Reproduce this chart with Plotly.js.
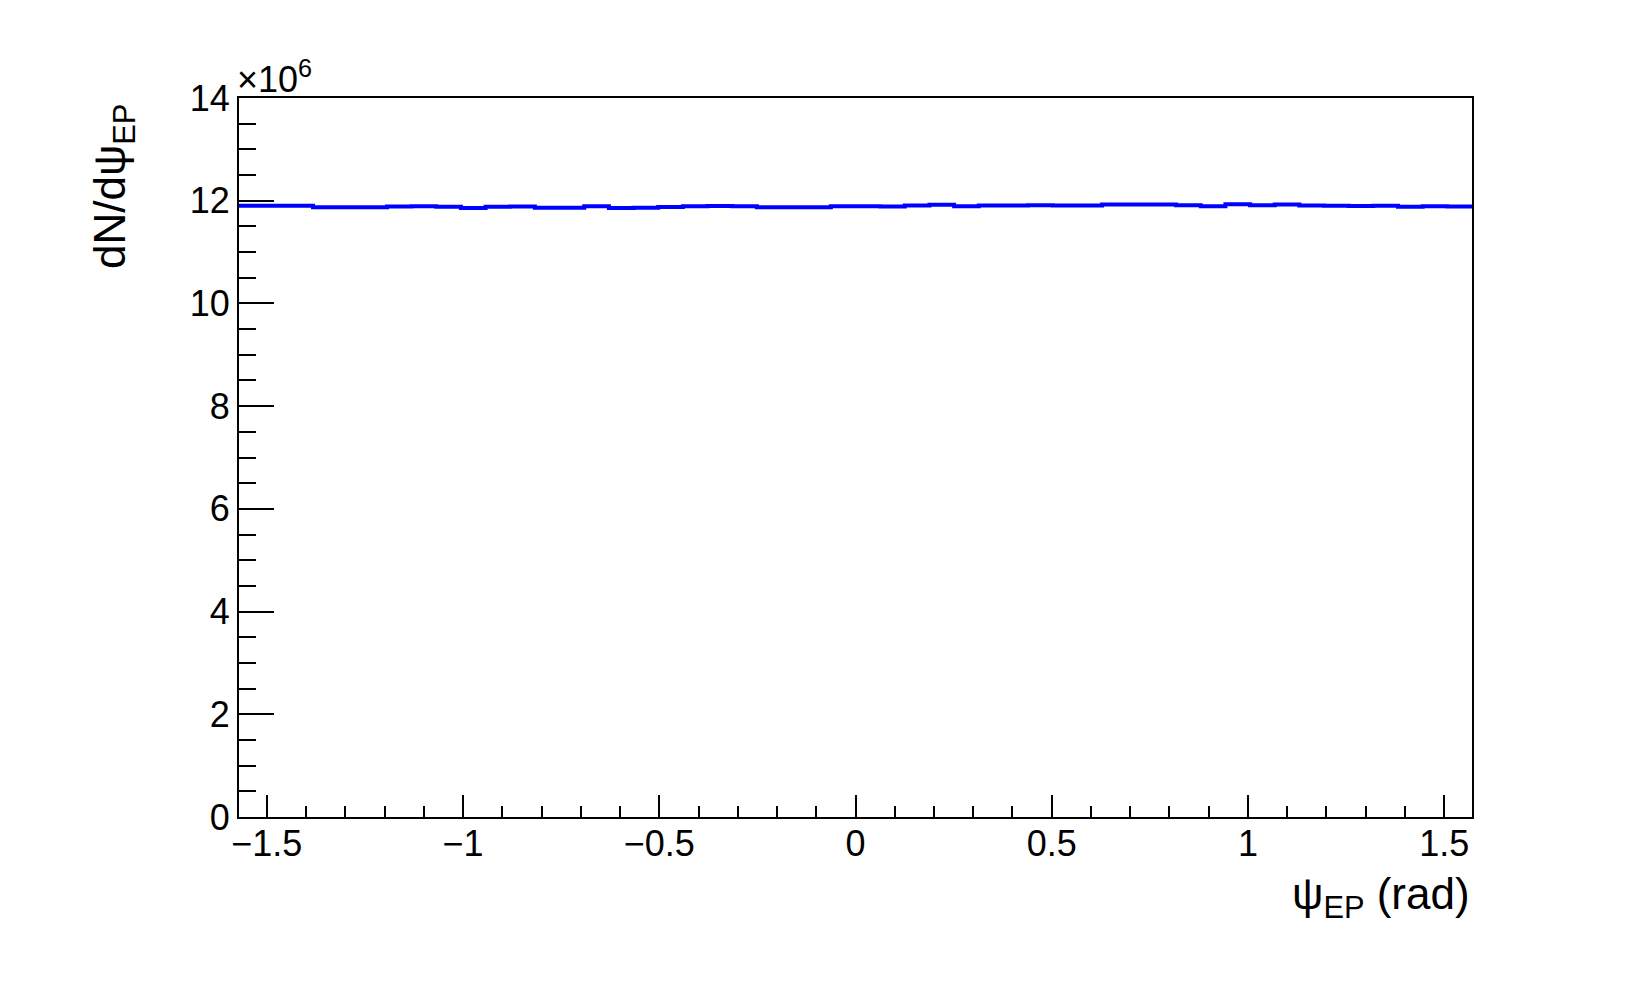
<!DOCTYPE html>
<html>
<head>
<meta charset="utf-8">
<script src="https://cdn.plot.ly/plotly-3.0.1.min.js"></script>
<style>html, body {margin: 0; padding: 0; background: #fff;}</style>
</head>
<body>
<div id="psi-plot" style="width:1635px;height:986px;"></div>
<script>
var nBins = 50;
var psiMin = -Math.PI / 2;
var psiMax = Math.PI / 2;

// bin contents of dN/dpsi_EP, in units of 10^6
var counts = [
  11.900, 11.900, 11.900, 11.875, 11.875, 11.875, 11.888, 11.894, 11.882, 11.856,
  11.882, 11.888, 11.862, 11.862, 11.894, 11.860, 11.865, 11.877, 11.894, 11.897,
  11.894, 11.872, 11.875, 11.872, 11.894, 11.894, 11.888, 11.907, 11.920, 11.894,
  11.907, 11.907, 11.914, 11.907, 11.907, 11.927, 11.927, 11.927, 11.914, 11.894,
  11.933, 11.914, 11.927, 11.907, 11.900, 11.897, 11.900, 11.882, 11.894, 11.888
];

var yTicks = [0, 2, 4, 6, 8, 10, 12, 14];
var xTicks = [-1.5, -1, -0.5, 0, 0.5, 1, 1.5];

// step histogram: one point per bin low edge, plus the last upper edge
var binWidth = (psiMax - psiMin) / nBins;
var xs = [], ys = [];
for (var i = 0; i <= nBins; i++) {
  xs.push(psiMin + i * binWidth);
  ys.push(counts[Math.min(i, nBins - 1)]);
}

var font = 'Liberation Sans, Arial, Helvetica, sans-serif';

var trace = {
  x: xs,
  y: ys,
  type: 'scatter',
  mode: 'lines',
  line: {shape: 'hv', color: '#0000ff', width: 4},
  hoverinfo: 'skip'
};

var layout = {
  width: 1635,
  height: 986,
  margin: {l: 239, r: 163, t: 98, b: 169},
  paper_bgcolor: '#fff',
  plot_bgcolor: '#fff',
  showlegend: false,
  font: {family: font, color: '#000'},
  xaxis: {
    range: [psiMin, psiMax],
    tickvals: xTicks,
    ticks: 'inside',
    ticklen: 22,
    tickwidth: 2,
    tickcolor: '#000',
    ticklabelstandoff: -6,
    minor: {dtick: 0.1, ticks: 'inside', ticklen: 11, tickwidth: 2, tickcolor: '#000'},
    showgrid: false,
    zeroline: false,
    showline: true,
    mirror: true,
    linecolor: '#000',
    linewidth: 2,
    tickfont: {family: font, size: 36, color: '#000'}
  },
  yaxis: {
    range: [0, 14],
    tickvals: yTicks,
    ticks: 'inside',
    ticklen: 35,
    tickwidth: 2,
    tickcolor: '#000',
    minor: {dtick: 0.5, ticks: 'inside', ticklen: 17, tickwidth: 2, tickcolor: '#000'},
    showgrid: false,
    zeroline: false,
    showline: true,
    mirror: true,
    linecolor: '#000',
    linewidth: 2,
    tickfont: {family: font, size: 36, color: '#000'}
  },
  annotations: [
    {
      text: '×10<sup>6</sup>',
      xref: 'paper', yref: 'paper',
      x: 0, y: 1, xanchor: 'left', yanchor: 'bottom',
      xshift: -4, yshift: -4,
      showarrow: false,
      font: {family: font, size: 36, color: '#000'}
    },
    {
      text: 'dN/dψ<sub>EP</sub>',
      xref: 'paper', yref: 'paper',
      x: -0.102, y: 0.994, xanchor: 'center', yanchor: 'top',
      textangle: -90,
      showarrow: false,
      font: {family: font, size: 44, color: '#000'}
    },
    {
      text: 'ψ<sub>EP</sub> (rad)',
      xref: 'paper', yref: 'paper',
      x: 1, y: -0.07, xanchor: 'right', yanchor: 'top',
      showarrow: false,
      font: {family: font, size: 44, color: '#000'}
    }
  ]
};

Plotly.newPlot('psi-plot', [trace], layout, {staticPlot: true});
</script>
</body>
</html>
